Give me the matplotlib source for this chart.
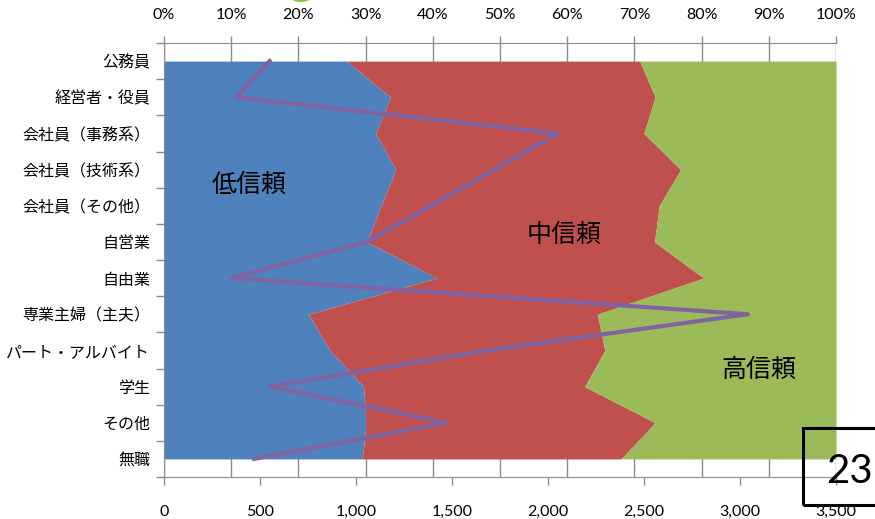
import numpy as np
import matplotlib
matplotlib.use("Agg")
import matplotlib.pyplot as plt
from matplotlib import patches

plt.rcParams['font.family'] = ['Noto Sans CJK JP', 'DejaVu Sans']

categories = ['公務員', '経営者・役員', '会社員（事務系）', '会社員（技術系）', '会社員（その他）',
              '自営業', '自由業', '専業主婦（主夫）', 'パート・アルバイト', '学生', 'その他', '無職']
low_trust = [27.2, 33.7, 31.5, 34.5, 32.3, 30.2, 40.6, 21.5, 24.7, 29.7, 30.1, 29.5]
mid_trust = [43.6, 39.4, 39.9, 42.4, 41.4, 42.8, 39.7, 43.0, 40.9, 32.9, 43.0, 38.5]
high_trust = [29.2, 26.9, 28.6, 23.1, 26.3, 27.0, 19.7, 35.5, 34.4, 37.4, 26.9, 32.0]
counts = [550, 375, 2050, 1720, 1390, 1055, 350, 3040, 1680, 550, 1470, 470]
pct_ticks = list(range(0, 101, 10))
count_ticks = list(range(0, 3501, 500))
area_labels = ['低信頼', '中信頼', '高信頼']

BLUE, RED, GREEN, PURPLE = '#4F81BD', '#C0504D', '#9BBB59', '#8064A2'
GRAY = '#8c8c8c'
W, H = 875, 519
NUM_FONT = ['Lato', 'DejaVu Sans']

fig = plt.figure(figsize=(W / 100, H / 100), dpi=100)
ax = fig.add_axes([164 / W, 42 / H, 672 / W, 434 / H])
ax2 = ax.twiny()

y = np.arange(len(categories))
low = np.array(low_trust)
mid = np.array(mid_trust)
high = np.array(high_trust)
c1 = low
c2 = low + mid
c3 = c2 + high
ax.fill_betweenx(y, 0, c1, color=BLUE, lw=0, zorder=2)
ax.fill_betweenx(y, c1, c2, color=RED, lw=0, zorder=2)
ax.fill_betweenx(y, c2, c3, color=GREEN, lw=0, zorder=2)

ax.set_xlim(0, 100)
ax.set_ylim(len(categories) - 0.5, -0.5)
ax.set_axisbelow(True)
ax.grid(axis='x', color=GRAY, lw=1, zorder=0)
ax.xaxis.set_ticks_position('top')
ax.xaxis.set_label_position('top')
ax.set_xticks(pct_ticks)
ax.set_xticklabels([f'{v}%' for v in pct_ticks], fontfamily=NUM_FONT, fontsize=11.5)
ax.tick_params(axis='x', which='both', top=True, labeltop=True, bottom=False, labelbottom=False,
               direction='out', length=5, width=1, color=GRAY, pad=10)

ax.set_yticks(np.arange(-0.5, len(categories), 1))
ax.set_yticklabels([])
ax.set_yticks(y, minor=True)
ax.set_yticklabels(categories, minor=True, fontsize=11.5)
ax.tick_params(axis='y', which='major', direction='out', length=6, width=1, color=GRAY)
ax.tick_params(axis='y', which='minor', length=0, pad=10)

for s in ['right', 'bottom']:
    ax.spines[s].set_visible(False)
for s in ['left', 'top']:
    ax.spines[s].set_color(GRAY)

ax2.set_xlim(0, 3500)
ax2.set_xticks(count_ticks)
ax2.set_xticklabels([f'{v:,}' for v in count_ticks], fontfamily=NUM_FONT, fontsize=11.5)
ax2.tick_params(axis='x', which='both', bottom=True, labelbottom=True, top=False, labeltop=False,
                direction='out', length=6, width=1, color=GRAY, pad=14)
for s in ['right', 'top', 'left']:
    ax2.spines[s].set_visible(False)
ax2.spines['bottom'].set_visible(True)
ax2.spines['bottom'].set_color(GRAY)
ax2.plot(counts, y, color=PURPLE, lw=3, zorder=3)

label_pos = [(249.5, 184.5), (563.7, 235), (758.7, 370)]
for txt, (px, py) in zip(area_labels, label_pos):
    fig.text(px / W, 1 - py / H, txt, fontsize=18, ha='center', va='center')

fig.patches.append(patches.Rectangle((803 / W, (H - 505) / H), 80 / W, 77 / H,
                                     transform=fig.transFigure, fill=False,
                                     lw=2.2, ec='black'))
fig.text(826 / W, (H - 483) / H, '23', fontsize=29, ha='left', va='baseline',
         fontfamily=NUM_FONT)
fig.patches.append(patches.Ellipse((301 / W, 1 + 3 / H), 20 / W, 10 / H,
                                   transform=fig.transFigure, color='#7DC83C', lw=0))

fig.savefig('out.png', dpi=100)
